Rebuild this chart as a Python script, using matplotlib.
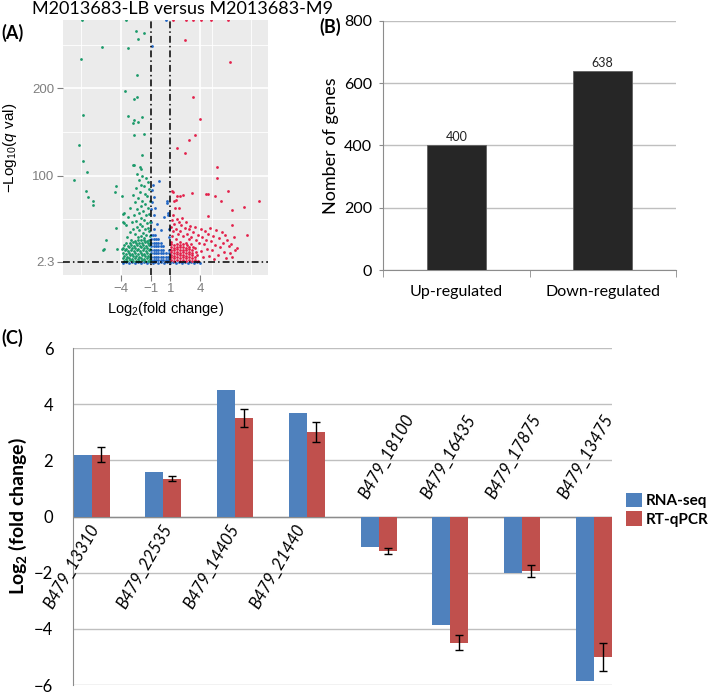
import matplotlib
matplotlib.use('Agg')
import matplotlib.pyplot as plt
import numpy as np
from matplotlib.patches import Patch

plt.rcParams['font.family'] = ['Lato', 'DejaVu Sans']
plt.rcParams['mathtext.fontset'] = 'custom'
plt.rcParams['mathtext.rm'] = 'Liberation Sans'
plt.rcParams['mathtext.it'] = 'Liberation Sans:italic'
plt.rcParams['mathtext.bf'] = 'Lato:bold'

# ---------------- (A) volcano plot ----------------
green_pts = [
    (-7.98, 278), (-3.45, 278), (-2.48, 265.5), (-1.67, 262.8), (-2.25, 256.7), (-5.96, 247.1),
    (-3.26, 245.7), (-8.08, 233.1), (-2.41, 215.1), (-3.56, 196.8), (-2.41, 190.4), (-2.68, 188.1),
    (-7.82, 170.1), (-3.26, 169), (-2.65, 164.4), (-1.84, 167.5), (-2.25, 161.3), (-2.82, 160.6),
    (-2.65, 147.3), (-1.67, 148.4), (-8.28, 135.8), (-1.84, 124.4), (-7.88, 116.7), (-7.41, 105.1),
    (-8.76, 95), (-2.75, 112.1), (-2.08, 109.9), (-2.68, 113), (-1.97, 108), (-7.54, 82.4),
    (-7.31, 75.5), (-6.87, 71.7), (-6.87, 66.4), (-4.61, 81.2), (-4.51, 88.9), (-3.93, 76.7),
    (-3.66, 57.7), (-5.52, 27.1), (-5.72, 16.5), (-5.79, 15.7), (-4.51, 41.2), (-4.44, 16.5),
    (-3.83, 56.9), (-3.83, 48), (-3.93, 16.5), (-3.70, 46.2),
    (-2.4, 102), (-1.9, 100), (-1.5, 98), (-2.2, 95), (-1.3, 93), (-2.0, 90), (-1.7, 88),
    (-2.5, 86), (-1.2, 85), (-2.1, 82), (-1.6, 80), (-2.8, 78), (-1.4, 77), (-2.3, 75),
    (-1.9, 72), (-1.1, 71), (-2.6, 70), (-1.6, 68), (-2.0, 66), (-3.1, 64), (-1.3, 63), (-2.4, 62),
    (-1.8, 60), (-2.2, 58), (-1.2, 57), (-2.7, 56), (-1.5, 55), (-3.3, 53), (-2.0, 52), (-1.7, 50),
    (-2.5, 49), (-1.1, 48), (-2.9, 47), (-1.4, 46), (-2.1, 45), (-3.5, 44), (-1.9, 43), (-2.4, 42),
    (-1.3, 41), (-1.6, 40), (-2.8, 39), (-2.2, 38), (-1.2, 37), (-3.1, 36), (-1.8, 35), (-2.6, 34),
    (-1.5, 33), (-2.0, 32), (-1.1, 31), (-3.4, 30), (-2.3, 30), (-1.7, 29),
    (-3.0, 27), (-2.6, 26), (-2.3, 27.5), (-2.0, 26.5), (-1.7, 27), (-1.4, 26), (-1.15, 27.5),
    (-3.5, 24), (-3.1, 23), (-2.8, 24.5), (-2.5, 23.5), (-2.2, 24), (-1.9, 23), (-1.6, 24.5), (-1.3, 23.5), (-1.1, 24),
    (-3.7, 21), (-3.3, 20), (-3.0, 21.5), (-2.7, 20.5), (-2.4, 21), (-2.1, 20), (-1.8, 21.5), (-1.5, 20.5), (-1.2, 21),
    (-3.8, 18), (-3.5, 17), (-3.2, 18.5), (-2.9, 17.5), (-2.6, 18), (-2.3, 17), (-2.0, 18.5), (-1.7, 17.5), (-1.4, 18), (-1.1, 17),
    (-3.6, 15), (-3.3, 14), (-3.0, 15.5), (-2.7, 14.5), (-2.4, 15), (-2.1, 14), (-1.8, 15.5), (-1.5, 14.5), (-1.2, 15),
    (-3.8, 12), (-3.5, 11), (-3.2, 12.5), (-2.9, 11.5), (-2.6, 12), (-2.3, 11), (-2.0, 12.5), (-1.7, 11.5), (-1.4, 12), (-1.1, 11),
    (-3.7, 9), (-3.4, 8), (-3.1, 9.5), (-2.8, 8.5), (-2.5, 9), (-2.2, 8), (-1.9, 9.5), (-1.6, 8.5), (-1.3, 9), (-1.05, 8),
    (-3.8, 6), (-3.5, 5.5), (-3.2, 6.5), (-2.9, 5.5), (-2.6, 6), (-2.3, 5.5), (-2.0, 6.5), (-1.7, 5.5), (-1.4, 6), (-1.1, 5.5),
    (-3.7, 3.5), (-3.4, 3.2), (-3.1, 3.8), (-2.8, 3.2), (-2.5, 3.5), (-2.2, 3.2), (-1.9, 3.8), (-1.6, 3.2), (-1.3, 3.5), (-1.05, 3.2),
]

blue_pts = [
    (0.6, 278), (-0.89, 248), (-0.79, 90), (-0.12, 94), (-0.69, 76), (-0.52, 64), (-0.7, 56),
    (0.63, 72), (0.73, 58), (0.4, 53), (-0.9, 84), (-0.85, 70), (-0.92, 62), (-0.95, 48),
    (0.79, 56), (0.68, 69), (0.9, 40), (0.85, 30), (-0.3, 45), (-0.6, 40), (0.1, 38),
    (-0.95, 33), (-0.75, 33), (-0.55, 33),
    (-0.95, 28), (-0.7, 28), (-0.45, 28), (-0.2, 28),
    (-0.95, 24), (-0.7, 24), (-0.45, 24), (-0.2, 24), (0.05, 24),
    (-0.95, 20), (-0.7, 20), (-0.45, 20), (-0.2, 20), (0.05, 20), (0.3, 20),
    (-0.95, 16), (-0.7, 16), (-0.45, 16), (-0.2, 16), (0.05, 16), (0.3, 16), (0.9, 16),
    (-0.95, 12), (-0.7, 12), (-0.45, 12), (-0.2, 12), (0.05, 12), (0.3, 12), (0.55, 12), (0.9, 12),
    (-0.95, 8), (-0.7, 8), (-0.45, 8), (-0.2, 8), (0.05, 8), (0.3, 8), (0.55, 8), (0.8, 8),
    (-0.95, 4), (-0.7, 4), (-0.45, 4), (-0.2, 4), (0.05, 4), (0.3, 4), (0.55, 4), (0.8, 4),
]

# not significant genes (q above threshold), the blue band on the 2.3 line
base_x = [-3.8, -3.5, -3.2, -2.9, -2.6, -2.3, -2.0, -1.7, -1.4, -1.1, -0.8, -0.5, -0.2, 0.1,
          0.4, 0.7, 1.0, 1.3, 1.6, 1.9, 2.2, 2.5, 2.8, 3.1, 3.4, 3.7, 4.0]
base_y = [0.3, 1.8, 0.3, 1.8, 0.3, 1.8, 0.3, 1.8, 0.3, 1.8, 0.3, 1.8, 0.3, 1.8,
          0.3, 1.8, 0.3, 1.8, 0.3, 1.8, 0.3, 1.8, 0.3, 1.8, 0.3, 1.8, 0.3]

red_pts = [
    (1.30, 278), (2.58, 278), (3.32, 278), (4.07, 278), (5.08, 278), (6.86, 278),
    (2.48, 255), (7.04, 230), (3.26, 190), (4.0, 165), (3.49, 147), (2.89, 141.5), (1.64, 132),
    (2.48, 126), (5.7, 110), (5.75, 98), (6.87, 83), (10.0, 72), (8.42, 64.5), (7.3, 61),
    (6.15, 71), (5.55, 77), (4.6, 79.4), (4.82, 79.4), (3.16, 80.6), (1.64, 77), (2.0, 77),
    (2.31, 78), (1.13, 82.4), (1.3, 82), (1.37, 72), (1.57, 73), (1.47, 63.4), (1.91, 63.4),
    (1.3, 55.7), (4.84, 54.6), (8.73, 32.8), (7.21, 44.3), (6.7, 27.1), (7.72, 17.6), (7.04, 11.9),
    (7.48, 30.9),
    (1.2, 50), (1.7, 51), (2.2, 52), (1.9, 48), (2.6, 47), (1.4, 45), (2.1, 44), (3.0, 43),
    (1.1, 42), (2.5, 41), (3.5, 42), (1.6, 40), (2.9, 39), (4.1, 40), (5.0, 41), (1.3, 37),
    (2.0, 37), (3.3, 36), (4.5, 37), (5.6, 38), (6.2, 36), (1.8, 34), (2.7, 34), (3.8, 33),
    (4.8, 34), (5.3, 32), (6.5, 33), (1.2, 31), (2.3, 31), (3.1, 30), (4.2, 30), (5.9, 29),
    (1.6, 28), (2.9, 28), (3.6, 27), (4.6, 27), (5.1, 26), (6.3, 24), (7.2, 22), (1.1, 25),
    (2.0, 25), (2.6, 24), (3.9, 24), (4.4, 22), (5.5, 21), (6.0, 19), (6.9, 20), (7.6, 15),
    (5.2, 15), (4.7, 17), (4.1, 14), (3.5, 18), (6.4, 13), (5.8, 10), (4.9, 9), (4.3, 7),
    (6.6, 6), (5.4, 5), (7.3, 8), (3.7, 10),
    (1.1, 22), (1.4, 21), (1.7, 22.5), (2.0, 21.5), (2.3, 22), (2.7, 21), (3.1, 22.5),
    (1.1, 19), (1.4, 18), (1.7, 19.5), (2.0, 18.5), (2.3, 19), (2.6, 18), (2.9, 19.5), (3.3, 18.5),
    (1.1, 16), (1.4, 15), (1.7, 16.5), (2.0, 15.5), (2.3, 16), (2.6, 15), (2.9, 16.5), (3.2, 15.5),
    (1.1, 13), (1.4, 12), (1.7, 13.5), (2.0, 12.5), (2.3, 13), (2.6, 12), (2.9, 13.5), (3.2, 12.5), (3.6, 13),
    (1.1, 10), (1.4, 9), (1.7, 10.5), (2.0, 9.5), (2.3, 10), (2.6, 9), (2.9, 10.5), (3.2, 9.5),
    (1.1, 7), (1.4, 6.5), (1.7, 7.5), (2.0, 6.5), (2.3, 7), (2.6, 6.5), (2.9, 7.5), (3.2, 6.5), (3.5, 7),
    (1.1, 4), (1.4, 3.5), (1.7, 4.5), (2.0, 3.5), (2.3, 4), (2.6, 3.5), (2.9, 4.5), (3.2, 3.5), (3.5, 4), (3.8, 3.5),
]

fc_cutoff = [-1, 1]
q_cutoff = 2.3

# ---------------- (B) counts ----------------
reg_labels = ['Up-regulated', 'Down-regulated']
reg_counts = [400, 638]

# ---------------- (C) validation ----------------
genes = ['B479_13310', 'B479_22535', 'B479_14405', 'B479_21440',
         'B479_18100', 'B479_16435', 'B479_17875', 'B479_13475']
rna_seq = [2.2, 1.6, 4.5, 3.7, -1.1, -3.85, -2.0, -5.85]
rt_qpcr = [2.2, 1.35, 3.5, 3.0, -1.23, -4.5, -1.95, -5.0]
rt_err = [0.27, 0.08, 0.32, 0.35, 0.12, 0.27, 0.22, 0.5]

W, H = 709, 696
fig = plt.figure(figsize=(W / 100, H / 100), dpi=100)
gg = ['Liberation Sans', 'DejaVu Sans']

# ---- panel A
axA = fig.add_axes([63 / W, 1 - 275 / H, 205 / W, 255 / H])
axA.set_facecolor('#EBEBEB')
for s in axA.spines.values():
    s.set_visible(False)
axA.set_xlim(-9.87, 10.9)
axA.set_ylim(-13, 278)
for v in [-8.0, 5.2, 9.2]:
    axA.axvline(v, color='white', lw=0.6, zorder=0)
for v in [-4, 4]:
    axA.axvline(v, color='white', lw=1.2, zorder=0)
for v in [51.15, 150, 250]:
    axA.axhline(v, color='white', lw=0.6, zorder=0)
for v in [100, 200]:
    axA.axhline(v, color='white', lw=1.2, zorder=0)

ms = 4
axA.scatter(base_x, base_y, s=ms, color='#2166c4', linewidths=0, zorder=2)
axA.scatter([p[0] for p in blue_pts], [p[1] for p in blue_pts], s=ms, color='#2166c4', linewidths=0, zorder=2)
axA.scatter([p[0] for p in green_pts], [p[1] for p in green_pts], s=ms, color='#1b9a6a', linewidths=0, zorder=2)
axA.scatter([p[0] for p in red_pts], [p[1] for p in red_pts], s=ms, color='#e3214b', linewidths=0, zorder=2)

dd = (0, (4.5, 2, 1, 2))
for v in fc_cutoff:
    axA.axvline(v, color='black', lw=1.1, ls=dd, zorder=3)
axA.axhline(q_cutoff, color='black', lw=1.1, ls=dd, zorder=3)

axA.set_xticks([-4, -1, 1, 4])
axA.set_xticklabels(['\u22124', '\u22121', '1', '4'])
axA.set_yticks([2.3, 100, 200])
axA.set_yticklabels(['2.3', '100', '200'])
axA.tick_params(axis='both', color='#7F7F7F', labelcolor='#7F7F7F', length=4, width=0.8,
                labelsize=9.5, pad=2)
for t in axA.get_xticklabels() + axA.get_yticklabels():
    t.set_fontfamily(gg)
axA.set_xlabel(r'Log$_2$(fold change)', fontsize=10.5, family=gg, labelpad=3)
axA.set_ylabel('\u2212' + r'Log$_{10}$($q$ val)', fontsize=11, family=gg)
axA.yaxis.set_label_coords(-0.215, 0.5)

fig.text(182 / W, 1 - 9 / H, 'M2013683-LB versus M2013683-M9', ha='center', va='center', fontsize=13)
fig.text(12 / W, 1 - 33 / H, '(A)', ha='center', va='center', fontsize=13, fontweight='bold')

# ---- panel B
axB = fig.add_axes([383.3 / W, 1 - 270 / H, 292.4 / W, 249.3 / H])
xb = np.arange(len(reg_counts))
axB.bar(xb, reg_counts, 0.4, color='#262626', edgecolor='#606060', linewidth=0.6, zorder=3)
axB.set_xlim(-0.5, 1.5)
axB.set_ylim(0, 800)
axB.set_yticks([0, 200, 400, 600, 800])
axB.yaxis.grid(True, color='#BFBFBF', lw=1)
axB.set_axisbelow(True)
for s in ['top', 'right']:
    axB.spines[s].set_visible(False)
for s in ['left', 'bottom']:
    axB.spines[s].set_color('#8C8C8C')
axB.set_xticks(xb)
axB.set_xticklabels(reg_labels)
axB.tick_params(axis='x', length=0, pad=11, labelsize=11.5)
axB.set_xticks([-0.5, 0.5, 1.5], minor=True)
axB.tick_params(axis='x', which='minor', length=5, color='#8C8C8C')
axB.tick_params(axis='y', length=3, color='#8C8C8C', labelsize=11.5, pad=5)
for xi, c in zip(xb, reg_counts):
    axB.text(xi, c + 8, str(c), ha='center', va='bottom', fontsize=9, color='#222222')
axB.set_ylabel('Nomber of genes', fontsize=13)
axB.yaxis.set_label_coords(-0.15, 0.5)
fig.text(330 / W, 1 - 27 / H, '(B)', ha='center', va='center', fontsize=13, fontweight='bold')

# ---- panel C
axC = fig.add_axes([72.7 / W, 1 - 685 / H, 539 / W, 337 / H])
xc = np.arange(len(genes))
w = 0.25
axC.bar(xc - w / 2, rna_seq, w, color='#4F81BD', zorder=3, label='RNA-seq')
axC.bar(xc + w / 2, rt_qpcr, w, color='#C0504D', zorder=3, label='RT-qPCR',
        yerr=rt_err, error_kw=dict(ecolor='black', elinewidth=1, capsize=3, capthick=1, zorder=4))
axC.set_xlim(-0.265, 7.25)
axC.set_ylim(-6, 6)
axC.set_yticks([-6, -4, -2, 0, 2, 4, 6])
axC.yaxis.grid(True, color='#BFBFBF', lw=1)
axC.set_axisbelow(True)
axC.axhline(0, color='#8C8C8C', lw=1, zorder=2)
for s in ['top', 'right', 'bottom']:
    axC.spines[s].set_visible(False)
axC.spines['left'].set_color('#8C8C8C')
axC.set_xticks([])
axC.tick_params(axis='y', length=0, labelsize=12, pad=14)

label_dx = [-0.05, -0.03, -0.10, -0.18, -0.12, -0.26, -0.35, -0.35]
for i, g in enumerate(genes):
    if rna_seq[i] >= 0:
        axC.text(xc[i] + label_dx[i], -0.2, g, rotation=60, rotation_mode='anchor',
                 ha='right', va='top', fontsize=12, style='italic')
    else:
        axC.text(xc[i] + label_dx[i], 0.55, g, rotation=60, rotation_mode='anchor',
                 ha='left', va='bottom', fontsize=12, style='italic')

axC.set_ylabel(r'Log$_\mathbf{2}$ (fold change)', fontsize=14, fontweight='bold')
axC.yaxis.set_label_coords(-0.082, 0.5)
handles = [Patch(facecolor='#4F81BD'), Patch(facecolor='#C0504D')]
leg = axC.legend(handles, ['RNA-seq', 'RT-qPCR'], loc='center left', bbox_to_anchor=(1.027, 0.52),
                 frameon=False, fontsize=11, handlelength=1.0, handleheight=1.1,
                 handletextpad=0.3, labelspacing=0.2, borderpad=0, borderaxespad=0)
for t in leg.get_texts():
    t.set_fontweight('bold')
fig.text(12 / W, 1 - 338 / H, '(C)', ha='center', va='center', fontsize=13, fontweight='bold')

fig.savefig('out.png', dpi=100)
